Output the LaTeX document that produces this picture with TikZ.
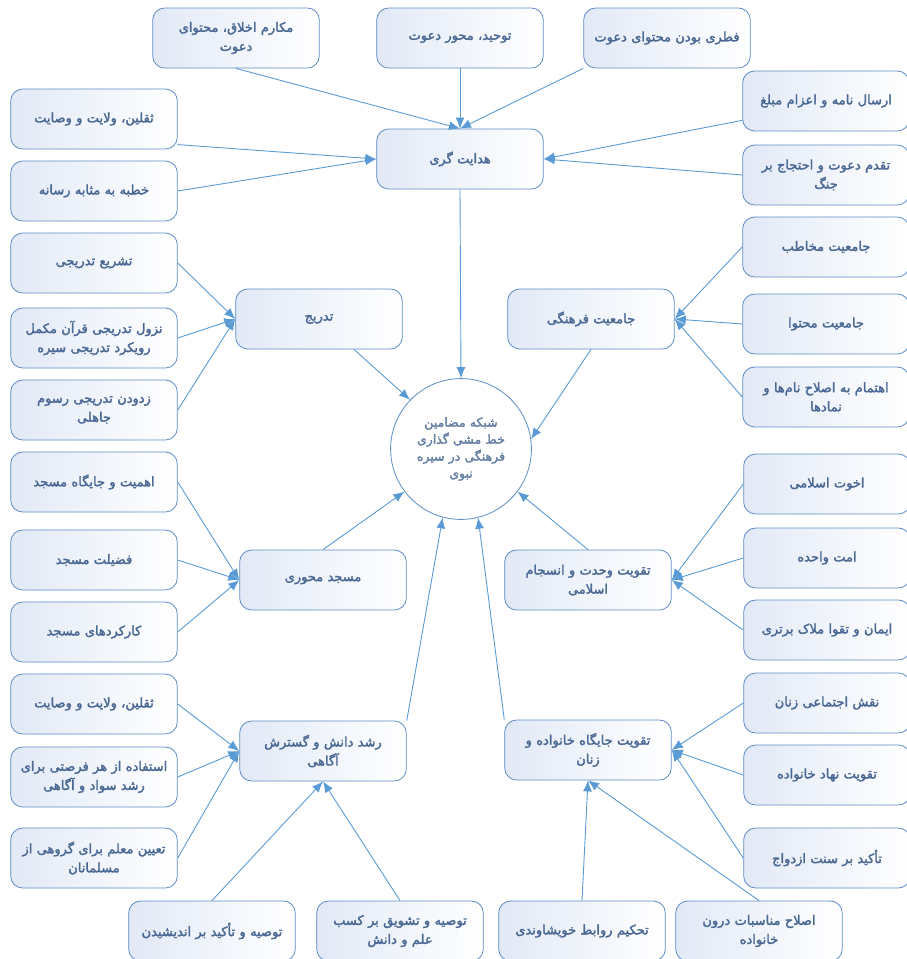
\documentclass[tikz,border=0pt]{standalone}
\usepackage{fontspec}
\TeXXeTstate=1
\newfontfamily\arabicfont[Script=Arabic, FakeBold=2.2]{DejaVu Sans}
\usetikzlibrary{arrows.meta}
\definecolor{boxline}{HTML}{5E8DC6}
\definecolor{boxfill}{HTML}{E2E9F6}
\definecolor{boxtext}{HTML}{4A6894}
\definecolor{arrowblue}{HTML}{5B9BD5}
\newcommand{\fatext}[1]{\beginR #1\endR}
\tikzset{
  theme/.style={draw=boxline, line width=0.8pt, rounded corners=12pt,
    left color=boxfill, right color=white, minimum width=166pt,
    minimum height=60pt, text width=160pt, align=center, text=boxtext,
    font=\arabicfont\fontsize{13}{19}\selectfont},
  sidebox/.style={theme, minimum width=160pt},
  core/.style={circle, draw=boxline, line width=0.8pt, fill=white,
    minimum size=136pt, text width=116pt, align=center, text=boxtext!85,
    font=\arabicfont\fontsize{12.5}{17}\selectfont},
  link/.style={color=arrowblue, line width=0.9pt, -{Latex[length=11pt,width=9pt]}}
}

\begin{document}
\begin{tikzpicture}[x=1pt, y=-1pt]
  \useasboundingbox (0,0) rectangle (906,959);

  % top: hedayat
  \node[theme] (hedayat) at (460,159) {\fatext{هدایت گری}};
  \node[theme] (akhlaq) at (236,38) {\fatext{مکارم اخلاق، محتوای}\\\fatext{دعوت}};
  \node[theme] (tohid) at (460,38) {\fatext{توحید، محور دعوت}};
  \node[theme] (fetri) at (667,38) {\fatext{فطری بودن محتوای دعوت}};
  \node[theme] (saqalainA) at (94,119) {\fatext{ثقلین، ولایت و وصایت}};
  \node[theme] (khotbe) at (94,191) {\fatext{خطبه به مثابه رسانه}};
  \node[sidebox] (ersal) at (826,101) {\fatext{ارسال نامه و اعزام مبلغ}};
  \node[sidebox] (taqaddom) at (826,175) {\fatext{تقدم دعوت و احتجاج بر}\\\fatext{جنگ}};

  % tadrij
  \node[theme] (tadrij) at (319,319) {\fatext{تدریج}};
  \node[theme] (tashri) at (94,263) {\fatext{تشریع تدریجی}};
  \node[theme] (nozul) at (94,338) {\fatext{نزول تدریجی قرآن مکمل}\\\fatext{رویکرد تدریجی سیره}};
  \node[theme] (zodudan) at (94,410) {\fatext{زدودن تدریجی رسوم}\\\fatext{جاهلی}};

  % jameiat
  \node[theme] (jameiat) at (591,319) {\fatext{جامعیت فرهنگی}};
  \node[sidebox] (mokhatab) at (826,247) {\fatext{جامعیت مخاطب}};
  \node[sidebox] (mohtava) at (826,324) {\fatext{جامعیت محتوا}};
  \node[sidebox] (ehtemam) at (826,397) {\fatext{اهتمام به اصلاح نام‌ها و}\\\fatext{نمادها}};

  % center
  \node[core] (shabake) at (461,449) {\fatext{شبکه مضامین}\\\fatext{خط مشی گذاری}\\\fatext{فرهنگی در سیره}\\\fatext{نبوی}};

  % masjed
  \node[theme] (masjed) at (323,580) {\fatext{مسجد محوری}};
  \node[theme] (ahamiat) at (94,482) {\fatext{اهمیت و جایگاه مسجد}};
  \node[theme] (fazilat) at (94,560) {\fatext{فضیلت مسجد}};
  \node[theme] (karkard) at (94,632) {\fatext{کارکردهای مسجد}};

  % vahdat
  \node[theme] (vahdat) at (588,580) {\fatext{تقویت وحدت و انسجام}\\\fatext{اسلامی}};
  \node[sidebox] (okhovvat) at (827,484) {\fatext{اخوت اسلامی}};
  \node[sidebox] (ommat) at (827,558) {\fatext{امت واحده}};
  \node[sidebox] (iman) at (827,630) {\fatext{ایمان و تقوا ملاک برتری}};

  % roshd
  \node[theme] (roshd) at (323,751) {\fatext{رشد دانش و گسترش}\\\fatext{آگاهی}};
  \node[theme] (saqalainB) at (94,704) {\fatext{ثقلین، ولایت و وصایت}};
  \node[theme] (estefade) at (94,777) {\fatext{استفاده از هر فرصتی برای}\\\fatext{رشد سواد و آگاهی}};
  \node[theme] (taiin) at (94,858) {\fatext{تعیین معلم برای گروهی از}\\\fatext{مسلمانان}};
  \node[theme] (andishidan) at (212,931) {\fatext{توصیه و تأکید بر اندیشیدن}};
  \node[theme] (tashviq) at (400,931) {\fatext{توصیه و تشویق بر کسب}\\\fatext{علم و دانش}};

  % khanevade
  \node[theme] (khanevade) at (588,750) {\fatext{تقویت جایگاه خانواده و}\\\fatext{زنان}};
  \node[sidebox] (naqsh) at (827,703) {\fatext{نقش اجتماعی زنان}};
  \node[sidebox] (nahad) at (827,775) {\fatext{تقویت نهاد خانواده}};
  \node[sidebox] (sonnat) at (827,858) {\fatext{تأکید بر سنت ازدواج}};
  \node[theme] (tahkim) at (582,931) {\fatext{تحکیم روابط خویشاوندی}};
  \node[theme] (eslah) at (759,931) {\fatext{اصلاح مناسبات درون}\\\fatext{خانواده}};

  \path[link] (akhlaq.south) edge (hedayat.north)
      (tohid.south) edge (hedayat.north)
      (fetri.south west) edge (hedayat.north)
      (saqalainA.-17) edge (hedayat.west)
      (khotbe.east) edge (hedayat.west)
      (ersal.193) edge (hedayat.east)
      (taqaddom.west) edge (hedayat.east)
      (hedayat.south) edge (shabake.north)
      (tashri.east) edge (tadrij.west)
      (nozul.east) edge (tadrij.west)
      (zodudan.east) edge (tadrij.west)
      (tadrij.-41) edge (shabake.136)
      (mokhatab.west) edge (jameiat.east)
      (mohtava.west) edge (jameiat.east)
      (ehtemam.west) edge (jameiat.east)
      (jameiat.south) edge (shabake.8)
      (ahamiat.east) edge (masjed.west)
      (fazilat.east) edge (masjed.west)
      (karkard.east) edge (masjed.west)
      (masjed.north) edge (shabake.217)
      (okhovvat.west) edge (vahdat.east)
      (ommat.west) edge (vahdat.east)
      (iman.west) edge (vahdat.east)
      (vahdat.north) edge (shabake.-37)
      (saqalainB.east) edge (roshd.west)
      (estefade.east) edge (roshd.west)
      (taiin.east) edge (roshd.west)
      (andishidan.north) edge (roshd.south)
      (tashviq.north) edge (roshd.south)
      (roshd.north east) edge (shabake.255)
      (naqsh.west) edge (khanevade.east)
      (nahad.west) edge (khanevade.east)
      (sonnat.west) edge (khanevade.east)
      (tahkim.north) edge (khanevade.south)
      (eslah.north) edge (khanevade.south)
      (khanevade.north west) edge (shabake.284);
\end{tikzpicture}
\end{document}
